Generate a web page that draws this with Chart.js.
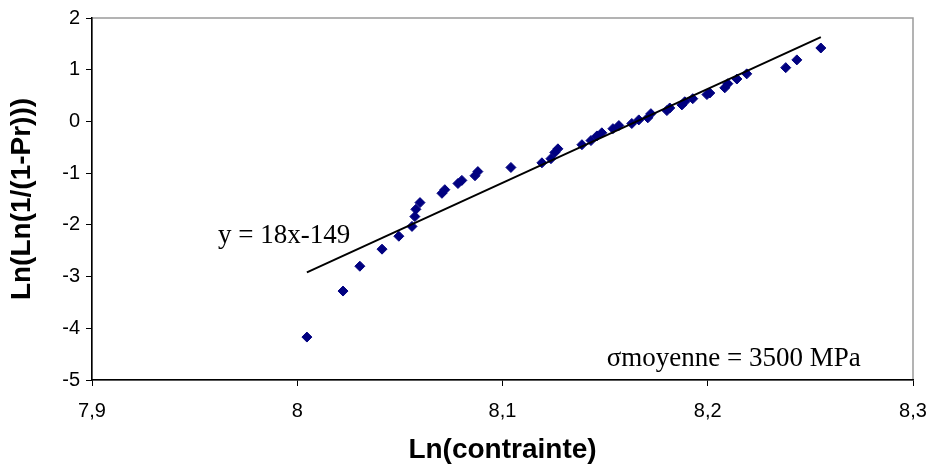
<!DOCTYPE html>
<html>
<head>
<meta charset="utf-8">
<script src="https://cdn.jsdelivr.net/npm/chart.js@4"></script>
<style>
  html, body { margin: 0; padding: 0; background: #fff; }
  #wrap { width: 933px; height: 472px; }
</style>
</head>
<body>
<div id="wrap"><canvas id="myChart"></canvas></div>
<script>
// points
const lnContrainte = [8.0047, 8.0223, 8.0305, 8.0413, 8.0495, 8.0559, 8.0573, 8.0578, 8.0598,
  8.0705, 8.0719, 8.0783, 8.0802, 8.0866, 8.0880, 8.1041, 8.1192, 8.1236, 8.1255, 8.1270,
  8.1387, 8.1431, 8.1460, 8.1484, 8.1538, 8.1567, 8.1630, 8.1664, 8.1708, 8.1723,
  8.1801, 8.1815, 8.1874, 8.1888, 8.1927, 8.1996, 8.2010, 8.2083, 8.2098, 8.2142, 8.2190,
  8.2380, 8.2434, 8.2551];
const lnLnPr = [-4.17, -3.28, -2.80, -2.47, -2.22, -2.03, -1.84, -1.70, -1.57,
  -1.39, -1.32, -1.20, -1.14, -1.05, -0.97, -0.89, -0.80, -0.72, -0.60, -0.53,
  -0.45, -0.37, -0.28, -0.22, -0.14, -0.08, -0.04, 0.03, 0.07, 0.15,
  0.21, 0.26, 0.32, 0.38, 0.44, 0.52, 0.55, 0.65, 0.73, 0.82, 0.92,
  1.04, 1.19, 1.42];
// regression line ends
const trendX = [8.0047, 8.2551];
const trendY = [-2.92, 1.63];

const xTicks = [7.9, 8, 8.1, 8.2, 8.3];
const yTicks = [-5, -4, -3, -2, -1, 0, 1, 2];

const notes = [
  { text: 'y = 18x-149', x: 7.9614, y: -2.36 },
  { text: '\u03c3moyenne = 3500 MPa', x: 8.1508, y: -4.73 }
];

const pts = lnContrainte.map((v, i) => ({ x: v, y: lnLnPr[i] }));
const trend = trendX.map((v, i) => ({ x: v, y: trendY[i] }));

const frame = {
  id: 'frame',
  beforeDraw(chart) {
    const a = chart.chartArea, c = chart.ctx;
    c.save();
    c.strokeStyle = '#9a9a9a';
    c.lineWidth = 1.5;
    c.strokeRect(a.left, a.top, a.right - a.left, a.bottom - a.top);
    c.restore();
  },
  afterDatasetsDraw(chart) {
    const c = chart.ctx, sx = chart.scales.x, sy = chart.scales.y;
    c.save();
    c.fillStyle = '#000';
    c.font = '27px "Liberation Serif", "Times New Roman", serif';
    c.textBaseline = 'alphabetic';
    notes.forEach(n => {
      c.fillText(n.text, sx.getPixelForValue(n.x), sy.getPixelForValue(n.y));
    });
    c.restore();
  }
};

const fmt = v => String(Number(v.toFixed(1))).replace('.', ',');

new Chart(document.getElementById('myChart'), {
  type: 'scatter',
  data: {
    datasets: [{
      data: pts,
      pointStyle: 'rectRot',
      pointRadius: 5,
      backgroundColor: '#000080',
      borderColor: '#000080',
      borderWidth: 1,
      order: 2
    }, {
      data: trend,
      showLine: true,
      pointRadius: 0,
      borderColor: '#000',
      borderWidth: 2,
      order: 1
    }]
  },
  options: {
    responsive: true,
    maintainAspectRatio: false,
    animation: false,
    layout: { padding: { top: 17, right: 20, left: 0, bottom: 0 } },
    plugins: { legend: { display: false }, tooltip: { enabled: false } },
    scales: {
      x: {
        type: 'linear',
        min: 7.9, max: 8.3,
        afterBuildTicks: s => { s.ticks = xTicks.map(v => ({ value: v })); },
        afterFit: s => { s.height = 92; s.paddingLeft = 0; s.paddingRight = 0; },
        border: { color: '#000', width: 1.5 },
        grid: { drawOnChartArea: false, tickLength: 6, color: '#000' },
        ticks: {
          color: '#000', padding: 13, maxRotation: 0,
          font: { family: '"Liberation Sans", Arial, sans-serif', size: 20 },
          callback: v => fmt(v)
        },
        title: {
          display: true, text: 'Ln(contrainte)', color: '#000',
          font: { family: '"Liberation Sans", Arial, sans-serif', size: 28, weight: 'bold' },
          padding: { top: 0, bottom: 5 }
        }
      },
      y: {
        type: 'linear',
        min: -5, max: 2,
        afterBuildTicks: s => { s.ticks = yTicks.map(v => ({ value: v })); },
        afterFit: s => { s.width = 92; },
        border: { color: '#000', width: 1.5 },
        grid: { drawOnChartArea: false, tickLength: 6, color: '#000' },
        ticks: {
          color: '#000', padding: 6,
          font: { family: '"Liberation Sans", Arial, sans-serif', size: 20 },
          callback: v => String(v)
        },
        title: {
          display: true, text: 'Ln(Ln(1/(1-Pr)))', color: '#000',
          font: { family: '"Liberation Sans", Arial, sans-serif', size: 28, weight: 'bold' },
          padding: { top: 5, bottom: 0 }
        }
      }
    }
  },
  plugins: [frame]
});
</script>
</body>
</html>
